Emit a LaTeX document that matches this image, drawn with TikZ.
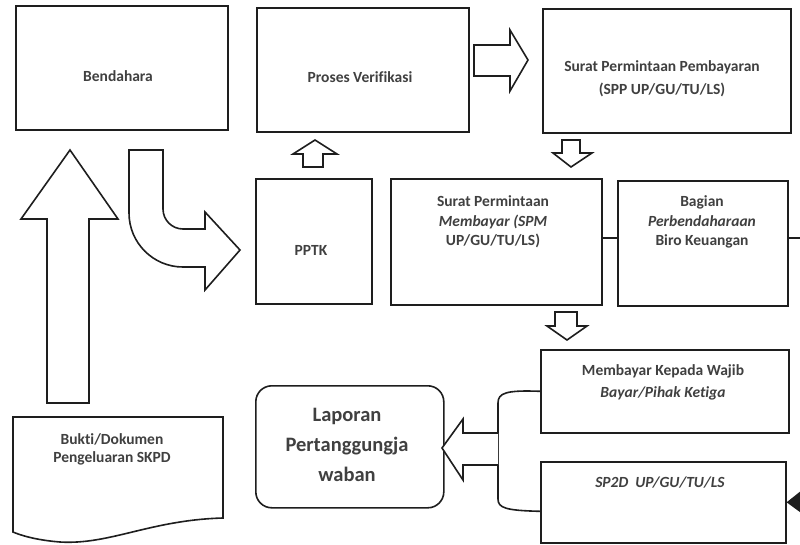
\documentclass[tikz,border=0pt]{standalone}
\usepackage{fontspec}
\setmainfont[Ligatures=CommonOff]{Carlito}
\usetikzlibrary{arrows.meta,calc}
\definecolor{ink}{HTML}{1E1E1E}
\begin{document}
\begin{tikzpicture}[x=1pt,y=-1pt,
  box/.style={draw=ink,line width=1.6pt,inner sep=0pt,anchor=north west},
  txt/.style={text=ink!85!white,font=\fontsize{15.5}{19.5}\selectfont\bfseries,align=center,inner sep=0pt},
  blk/.style={draw=ink,line width=1.6pt,fill=white,line join=miter},
  ln/.style={draw=ink,line width=1.6pt}]
\useasboundingbox (0,0) rectangle (800,544);
\fill[white] (0,0) rectangle (800,544);

% boxes
\node[box,minimum width=212pt,minimum height=124pt] (bend) at (15,5) {};
\node[box,minimum width=212pt,minimum height=124pt] (verif) at (256,7) {};
\node[box,minimum width=248pt,minimum height=124pt] (spp) at (542,8) {};
\node[box,minimum width=116pt,minimum height=125pt] (pptk) at (255,178) {};
\node[box,minimum width=211pt,minimum height=126pt] (spm) at (390,178) {};
\node[box,minimum width=170pt,minimum height=125pt] (bag) at (617,180) {};
\node[box,minimum width=248pt,minimum height=83pt] (bayar) at (540,349) {};
\node[box,minimum width=245pt,minimum height=81pt] (sp2d) at (540,461) {};
\node[box,rounded corners=16pt,minimum width=188pt,minimum height=122pt] (lap) at (255,385) {};

% document shape
\draw[ln] (13,417) coordinate (bk) -- (223,417) -- (223,518)
  .. controls (150,520) and (110,545) .. (60,542)
  .. controls (35,540) and (20,535) .. (13,532) -- cycle;

% texts
\node[txt] (tbend) at (118,76) {Bendahara};
\node[txt] (tverif) at (360,77) {Proses Verifikasi};
\node[txt,font=\fontsize{15.5}{23}\selectfont\bfseries] (tspp) at (662,79) {Surat Permintaan Pembayaran\\(SPP UP/GU/TU/LS)};
\node[txt] (tpptk) at (311,250) {PPTK};
\node[txt] (tspm) at (493,222) {Surat Permintaan\\\textit{Membayar (SPM}\\UP/GU/TU/LS)};
\node[txt] (tbag) at (702,222) {Bagian\\\textit{Perbendaharaan}\\Biro Keuangan};
\node[txt,font=\fontsize{15.5}{22}\selectfont\bfseries] (tbayar) at (663,382) {Membayar Kepada Wajib\\\textit{Bayar/Pihak Ketiga}};
\node[txt] (tsp2d) at (660,483) {\textit{SP2D\ \ UP/GU/TU/LS}};
\node[txt,font=\fontsize{15.5}{18}\selectfont\bfseries] (tbukti) at (112,449) {Bukti/Dokumen\\Pengeluaran SKPD};
\node[txt,font=\fontsize{20.5}{30}\selectfont\bfseries] (tlap) at (347,445) {Laporan\\Pertanggungja\\waban};

% block arrows
\draw[blk] (474,45) -- (510,45) -- (510,30) -- (528,60) -- (510,91) -- (510,76) -- (474,76) -- cycle;
\draw[blk] (562,140) -- (580,140) -- (580,153) -- (592,153) -- (571,167) -- (553,153) -- (562,153) -- cycle;
\draw[blk] (303,167) -- (303,154) -- (293,154) -- (315,140) -- (337,154) -- (323,154) -- (323,167) -- cycle;
\draw[blk] (555,312) -- (577,312) -- (577,326) -- (587,326) -- (567,340) -- (547,326) -- (555,326) -- cycle;
\draw[blk] (47,403) -- (47,219) -- (21,219) -- (70,150) -- (118,219) -- (89,219) -- (89,403) -- cycle;
\draw[blk] (129,150) -- (163,150) -- (163,209) arc[start angle=180,end angle=90,radius=20]
  -- (205,229) -- (205,212) -- (240,250) -- (205,290) -- (205,267) -- (183,267)
  arc[start angle=90,end angle=180,radius=54] -- cycle;

% bracket and arrow to report
\coordinate (bb) at ($(sp2d.west)+(0,9)$);
\draw[ln] (bayar.west) .. controls (506,390) and (498,393) .. (498,403) -- (498,499)
  .. controls (498,508) and (506,510.5) .. (bb);
\draw[blk] (498,433) -- (463,433) -- (463,419) -- (442,448) -- (463,480) -- (463,465) -- (498,465);

% lines
\draw[ln] ([yshift=4pt]spm.east) -- ([yshift=4pt]spm.east -| bag.west);
\coordinate (redge) at (800,238);
\draw[ln] (bag.east |- redge) -- (redge);
\coordinate (redge2) at (802,502);
\draw[ln,-{Triangle[length=16pt,width=24pt]}] (redge2) -- (sp2d.east);
\end{tikzpicture}
\end{document}
